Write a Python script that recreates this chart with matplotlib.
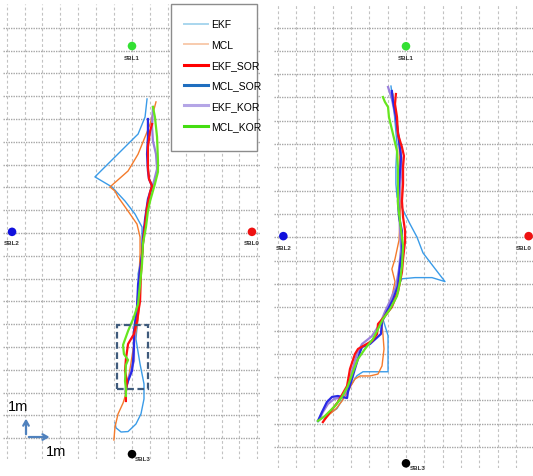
import numpy as np
import matplotlib.pyplot as plt
from matplotlib.lines import Line2D
from matplotlib.patches import Rectangle

# series names, in legend order
labels = ["EKF", "MCL", "EKF_SOR", "MCL_SOR", "EKF_KOR", "MCL_KOR"]

# beacon positions (m)
beacon_names = ["SBL0", "SBL1", "SBL2", "SBL3"]
beacon_x = [6.7, 0.0, -6.7, 0.0]
beacon_y = [0.05, 8.2, 0.05, -9.7]

# left run, (x, y) in m
left_ekf = [(0.84, 5.88), (0.73, 5.09), (0.34, 4.34), (0.17, 4.21), (-2.07, 2.46),
            (-1.12, 2.02), (-0.39, 1.40), (0.17, 0.83), (0.56, 0.26), (0.56, -0.26),
            (0.56, -0.92), (0.34, -1.80), (0.39, -2.54), (0.34, -3.68), (0.22, -4.65),
            (0.45, -5.75), (0.67, -6.62), (0.67, -7.28), (0.50, -7.94), (0.22, -8.38),
            (-0.22, -8.71), (-0.61, -8.73), (-0.89, -8.55), (-0.95, -8.33)]
left_mcl = [(1.34, 5.75), (1.01, 4.78), (0.84, 4.43), (0.34, 3.46), (-0.22, 2.72),
            (-1.23, 2.02), (-0.95, 1.84), (-0.78, 1.58), (-0.22, 0.96), (0.28, 0.39),
            (0.45, -0.18), (0.45, -0.92), (0.39, -2.02), (0.45, -2.89), (0.34, -3.77),
            (0.11, -4.87), (-0.11, -5.96), (-0.34, -7.06), (-0.50, -7.46), (-0.78, -7.94),
            (-0.95, -8.51), (-1.01, -9.08)]
left_ekf_sor = [(1.12, 4.78), (1.01, 4.47), (0.89, 3.77), (0.89, 2.89), (0.95, 2.37),
                (1.12, 2.06), (1.01, 1.80), (0.84, 1.14), (0.67, -0.04), (0.61, -0.48),
                (0.50, -1.80), (0.45, -2.98), (0.28, -3.86), (0.11, -4.43), (-0.22, -4.87),
                (-0.34, -5.53), (-0.39, -6.05), (-0.28, -6.49), (-0.34, -6.93), (-0.34, -7.37)]
left_mcl_sor = [(0.89, 5.00), (0.89, 4.21), (0.84, 3.46), (0.89, 2.72), (0.95, 2.37),
                (1.12, 2.06), (0.89, 1.49), (0.73, 0.61), (0.61, -0.26), (0.56, -0.92),
                (0.34, -2.24), (0.28, -3.25), (0.11, -4.30), (0.11, -5.00), (0.06, -5.61),
                (0.00, -6.05), (-0.22, -6.49), (-0.34, -6.80), (-0.34, -7.02)]
left_ekf_kor = [(1.17, 5.53), (1.12, 4.65), (1.17, 4.04), (1.34, 3.46), (1.40, 2.81),
                (1.23, 2.28), (1.06, 1.84), (0.84, 1.05), (0.67, -0.04), (0.56, -0.92),
                (0.39, -2.24), (0.28, -3.33), (0.17, -4.21), (0.11, -4.87), (0.11, -5.61),
                (-0.11, -6.18), (-0.28, -6.62), (-0.34, -6.93)]
left_mcl_kor = [(1.17, 5.53), (1.28, 5.09), (1.40, 4.21), (1.45, 3.16), (1.45, 2.68),
                (1.28, 2.15), (1.01, 1.40), (0.89, 0.96), (0.78, 0.26), (0.61, -0.48),
                (0.56, -1.36), (0.45, -2.24), (0.34, -3.11), (0.11, -3.68), (-0.22, -4.30),
                (-0.50, -4.91), (-0.45, -5.31), (-0.22, -5.57), (-0.34, -5.79), (-0.39, -6.49),
                (-0.34, -6.84), (-0.34, -7.15)]

# right run, (x, y) in m
right_ekf = [(-0.82, 6.49), (-0.66, 5.50), (-0.49, 4.00), (-0.55, 3.02), (-0.55, 2.29),
             (-0.49, 1.73), (-0.16, 1.17), (0.22, 0.57), (0.60, 0.01), (0.93, -0.67),
             (1.58, -1.34), (2.13, -1.90), (1.42, -1.73), (0.49, -1.73), (-0.22, -1.78),
             (-0.49, -2.21), (-0.77, -2.76), (-1.15, -3.28), (-1.26, -3.51), (-0.98, -4.22),
             (-0.98, -4.91), (-0.98, -5.77), (-1.86, -5.77), (-2.35, -5.77), (-2.68, -5.94),
             (-3.06, -6.41), (-3.44, -6.92), (-3.77, -7.35), (-4.26, -7.61), (-4.70, -7.83),
             (-4.81, -7.91)]
right_mcl = [(-0.71, 6.15), (-0.55, 5.08), (-0.38, 4.00), (-0.33, 3.02), (-0.27, 1.86),
             (-0.33, 0.79), (-0.38, -0.12), (-0.60, -0.93), (-0.77, -1.36), (-0.60, -1.90),
             (-0.77, -2.56), (-0.98, -2.95), (-1.15, -3.20), (-1.31, -3.80), (-1.26, -4.15),
             (-1.20, -4.79), (-1.31, -5.52), (-1.53, -5.87), (-1.97, -5.95), (-2.51, -5.95),
             (-2.79, -6.08), (-3.17, -6.60), (-3.50, -7.03), (-3.83, -7.37), (-4.15, -7.58),
             (-4.43, -7.80), (-4.54, -7.93)]
right_ekf_sor = [(-0.55, 6.15), (-0.60, 5.72), (-0.49, 5.16), (-0.44, 4.43), (-0.22, 3.87),
                 (-0.11, 3.49), (-0.16, 3.02), (-0.16, 2.29), (-0.22, 1.56), (-0.16, 0.87),
                 (-0.05, 0.27), (-0.05, -0.16), (-0.16, -0.93), (-0.22, -1.49), (-0.44, -2.35),
                 (-0.77, -2.99), (-1.15, -3.38), (-1.53, -3.72), (-1.58, -4.15), (-1.86, -4.45),
                 (-2.62, -4.79), (-2.79, -5.01), (-3.06, -5.65), (-3.22, -6.38), (-3.72, -7.07),
                 (-4.15, -7.50), (-4.54, -7.93)]
right_mcl_sor = [(-0.77, 6.28), (-0.71, 5.85), (-0.55, 5.16), (-0.38, 4.13), (-0.27, 3.44),
                 (-0.38, 2.29), (-0.44, 1.56), (-0.38, 0.87), (-0.22, 0.27), (-0.22, -0.63),
                 (-0.33, -1.23), (-0.44, -2.09), (-0.71, -2.67), (-1.04, -3.18), (-1.31, -3.62),
                 (-1.37, -4.15), (-1.97, -4.58), (-2.40, -4.71), (-2.51, -4.92), (-2.79, -5.65),
                 (-2.95, -6.08), (-3.17, -6.64), (-3.22, -6.90), (-3.72, -6.81), (-4.04, -6.85),
                 (-4.32, -7.07), (-4.59, -7.50), (-4.81, -7.88)]
right_ekf_kor = [(-0.98, 6.45), (-0.77, 5.94), (-0.55, 5.08), (-0.33, 4.00), (-0.22, 3.15),
                 (-0.33, 2.07), (-0.38, 1.21), (-0.33, 0.36), (-0.27, -0.49), (-0.38, -1.36),
                 (-0.55, -2.13), (-0.87, -2.73), (-1.15, -3.20), (-1.42, -3.72), (-1.86, -4.24),
                 (-2.40, -4.58), (-2.68, -5.01), (-2.95, -5.74), (-3.17, -6.42), (-3.44, -6.85),
                 (-3.93, -6.94), (-4.26, -7.15), (-4.54, -7.50), (-4.75, -7.84)]
right_mcl_kor = [(-1.26, 6.02), (-1.15, 5.81), (-0.98, 5.59), (-0.93, 5.16), (-0.71, 4.43),
                 (-0.49, 3.70), (-0.44, 3.02), (-0.44, 1.99), (-0.44, 1.43), (-0.33, 0.70),
                 (-0.22, 0.01), (-0.16, -0.37), (-0.22, -1.23), (-0.33, -1.92), (-0.49, -2.52),
                 (-0.87, -3.08), (-1.26, -3.51), (-1.53, -3.94), (-1.80, -4.36), (-2.24, -4.79),
                 (-2.62, -5.22), (-2.90, -5.78), (-3.17, -6.38), (-3.50, -6.85), (-3.88, -7.24),
                 (-4.43, -7.67), (-4.81, -7.88)]

left_tracks = dict(zip(labels, [left_ekf, left_mcl, left_ekf_sor,
                                left_mcl_sor, left_ekf_kor, left_mcl_kor]))
right_tracks = dict(zip(labels, [right_ekf, right_mcl, right_ekf_sor,
                                 right_mcl_sor, right_ekf_kor, right_mcl_kor]))

# styles
line_style = {
    "EKF": dict(color="#3a9be8", lw=1.0),
    "MCL": dict(color="#f47b2c", lw=1.0),
    "EKF_SOR": dict(color="#ff1010", lw=1.6),
    "MCL_SOR": dict(color="#2a2ae6", lw=1.6),
    "EKF_KOR": dict(color="#9b80dc", lw=1.6),
    "MCL_KOR": dict(color="#66e61e", lw=1.6),
}
legend_style = {
    "EKF": dict(color="#a9d6ee", lw=1.4),
    "MCL": dict(color="#f8cbad", lw=1.4),
    "EKF_SOR": dict(color="#ff0000", lw=2.2),
    "MCL_SOR": dict(color="#1f6ebf", lw=2.2),
    "EKF_KOR": dict(color="#b4a5e6", lw=2.2),
    "MCL_KOR": dict(color="#44dd11", lw=2.2),
}
draw_order = ["EKF", "MCL", "EKF_KOR", "MCL_SOR", "EKF_SOR", "MCL_KOR"]
beacon_colors = ["#ee1111", "#33e033", "#1111dd", "black"]
sans = ["Liberation Sans", "DejaVu Sans"]


def draw_panel(ax, tracks, ylim, sbl3_dx, sbl0_dx):
    ax.set_xlim(-7.2, 7.2)
    ax.set_ylim(*ylim)
    ax.axis("off")

    # grid: dashed verticals, dotted horizontals
    for v in range(-7, 8):
        ax.axvline(v, color="#c2c2c2", lw=0.8, ls=(0, (2.5, 2.2)), zorder=0)
    for h in range(-9, 10):
        ax.axhline(h, color="#a6a6a6", lw=1.0, ls=(0, (1, 0.8)), zorder=0)

    for name in draw_order:
        pts = np.array(tracks[name])
        ax.plot(pts[:, 0], pts[:, 1], solid_joinstyle="round", zorder=3,
                **line_style[name])

    # beacons
    ax.scatter(beacon_x, beacon_y, s=38, c=beacon_colors, zorder=4, linewidths=0)
    for name, bx, by in zip(beacon_names, beacon_x, beacon_y):
        if name == "SBL3":
            offset, ha = (sbl3_dx, -3), "left"
        elif name == "SBL0":
            offset, ha = (sbl0_dx, -8), "center"
        else:
            offset, ha = (0, -8), "center"
        ax.annotate(name, (bx, by), xytext=offset, textcoords="offset points",
                    ha=ha, va="center", fontsize=4.5, fontweight="bold",
                    family=sans, color="#333333")


fig = plt.figure(figsize=(5.33, 4.77), dpi=100)
ax1 = fig.add_axes([0.0058, 0.0363, 0.4837, 0.9535])
ax2 = fig.add_axes([0.5144, 0.0168, 0.4946, 0.9721])

draw_panel(ax1, left_tracks, (-9.9, 10.05), 2.2, 0)
draw_panel(ax2, right_tracks, (-9.9, 10.0), 3.0, -3.2)

# zoom box around the start area (left run)
ax1.add_patch(Rectangle((-0.85, -6.85), 1.75, 2.8, fill=False, ec="#3f5b7c",
                        lw=1.6, ls=(0, (3, 1.6)), zorder=5))

# scale arrows
arrow_kw = dict(arrowstyle="->,head_length=0.35,head_width=0.2", color="#4f81bd", lw=1.6)
ax1.annotate("", xy=(-5.92, -8.02), xytext=(-5.92, -8.95), arrowprops=arrow_kw)
ax1.annotate("", xy=(-4.45, -8.95), xytext=(-5.92, -8.95), arrowprops=arrow_kw)
ax1.text(-6.37, -7.59, "1m", fontsize=10.5, ha="center", va="center", family=sans)
ax1.text(-4.22, -9.56, "1m", fontsize=10.5, ha="center", va="center", family=sans)

# legend box with its own frame
ax1.add_patch(Rectangle((2.18, 3.6), 4.82, 6.44, fc="white", ec="#8c8c8c",
                        lw=1.0, zorder=6, clip_on=False))
handles = [Line2D([], [], **legend_style[n]) for n in labels]
leg = ax1.legend(handles, labels, loc="upper left", bbox_to_anchor=(2.63, 9.6),
                 bbox_transform=ax1.transData, frameon=False, borderpad=0,
                 handlelength=2.3, handletextpad=0.25, labelspacing=1.0,
                 prop=dict(family=sans, size=7.5))
leg.set_zorder(7)

fig.savefig("out.png", dpi=100)
